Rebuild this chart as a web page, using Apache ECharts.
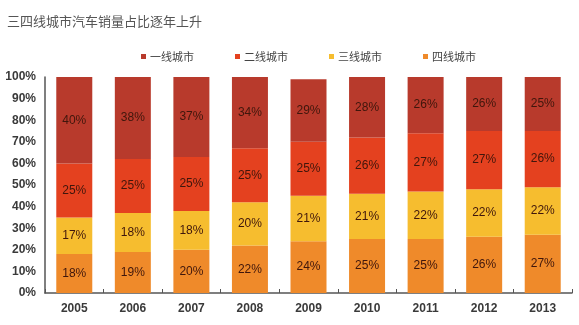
<!DOCTYPE html>
<html><head><meta charset="utf-8">
<script src="https://cdn.jsdelivr.net/npm/echarts@6/dist/echarts.min.js"></script>
<style>html,body{margin:0;padding:0;background:#fff}#c{width:579px;height:325px}</style>
</head><body><div id="c"></div>
<script>
var titleText = '三四线城市汽车销量占比逐年上升';
var categories = ['2005','2006','2007','2008','2009','2010','2011','2012','2013'];
var seriesNames = ['一线城市','二线城市','三线城市','四线城市'];
var tier1 = [40,38,37,34,29,28,26,26,25];
var tier2 = [25,25,25,25,25,26,27,27,26];
var tier3 = [17,18,18,20,21,21,22,22,22];
var tier4 = [18,19,20,22,24,25,25,26,27];
var yTicks = [0,10,20,30,40,50,60,70,80,90,100];

var colors = {'一线城市':'#b83a2c','二线城市':'#e4411f','三线城市':'#f6bd2f','四线城市':'#ef8a2a'};
var dataByName = {'一线城市':tier1,'二线城市':tier2,'三线城市':tier3,'四线城市':tier4};
var stackOrder = ['四线城市','三线城市','二线城市','一线城市'];
var font = '"Liberation Sans", Arial, "Noto Sans CJK SC", sans-serif';

var chart = echarts.init(document.getElementById('c'));
var series = stackOrder.map(function(n){
  return {
    name:n, type:'bar', stack:'total', barWidth:36,
    itemStyle:{color:colors[n]},
    label:{show:true, position:'inside', formatter:'{c}%', color:'#3f160c', fontSize:12, fontFamily:font},
    data:dataByName[n]
  };
});
chart.setOption({
  animation:false,
  title:{text:titleText, left:2, top:10, textStyle:{fontSize:13, fontWeight:'normal', color:'#555', fontFamily:'"Noto Sans CJK SC", sans-serif'}},
  legend:{data:seriesNames, top:46, left:136, itemWidth:5, itemHeight:5, itemGap:41, icon:'rect',
    textStyle:{fontSize:11, color:'#444', fontFamily:'"Noto Sans CJK SC", sans-serif', padding:[0,0,0,-1]}},
  grid:{left:45, right:7, top:77, bottom:32},
  xAxis:{type:'category', data:categories,
    axisLine:{lineStyle:{color:'#555', width:1.5}},
    axisTick:{show:true, inside:true, length:4, lineStyle:{color:'#555'}},
    axisLabel:{color:'#3a3a3a', fontSize:12, fontWeight:'bold', margin:10, fontFamily:font}},
  yAxis:{type:'value', min:0, max:100, interval:10,
    axisLine:{show:true, lineStyle:{color:'#555', width:1.5}},
    axisTick:{show:false}, splitLine:{show:false},
    axisLabel:{color:'#3a3a3a', fontSize:12, fontWeight:'bold', margin:9, fontFamily:font,
      formatter:function(v){ return yTicks.indexOf(v) >= 0 ? v + '%' : ''; }}},
  series:series
});
</script></body></html>
